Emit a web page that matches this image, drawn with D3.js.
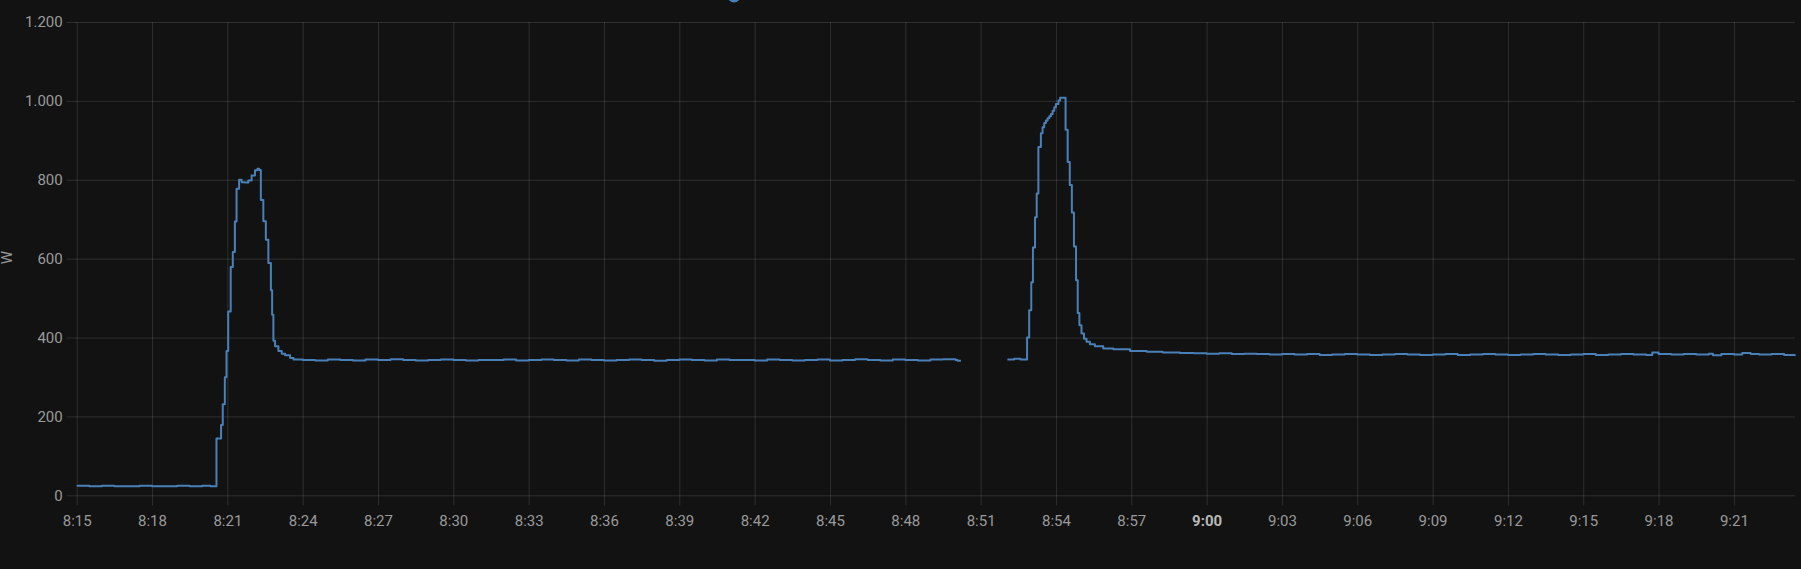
<!DOCTYPE html>
<html>
<head>
<meta charset="utf-8">
<script src="https://cdn.jsdelivr.net/npm/d3@7"></script>
<style>
  html, body { margin: 0; padding: 0; background: #121212; overflow: hidden; }
  svg { display: block; }
  text { font-family: Roboto, "Noto Sans", sans-serif; }
</style>
</head>
<body>
<svg id="chart" width="1801" height="569"></svg>
<script>
// ---- data ----
const times = [
  "8:15:00","8:15:30","8:16:00","8:16:30","8:17:00","8:17:30","8:18:00","8:18:30","8:19:00","8:19:30","8:20:00","8:20:20",
  "8:20:34","8:20:45","8:20:49","8:20:54","8:20:58","8:21:02","8:21:08","8:21:13","8:21:18","8:21:22","8:21:28","8:21:34",
  "8:21:42","8:21:50","8:21:58","8:22:06","8:22:12","8:22:16","8:22:20","8:22:26","8:22:32","8:22:38","8:22:44","8:22:47",
  "8:22:50","8:22:54","8:23:02","8:23:10","8:23:18","8:23:30","8:23:38",
  "8:24:00","8:24:30","8:25:00","8:25:30","8:26:00","8:26:30","8:27:00","8:27:30","8:28:00","8:28:30","8:29:00","8:29:30",
  "8:30:00","8:30:30","8:31:00","8:31:30","8:32:00","8:32:30","8:33:00","8:33:30","8:34:00","8:34:30","8:35:00","8:35:30",
  "8:36:00","8:36:30","8:37:00","8:37:30","8:38:00","8:38:30","8:39:00","8:39:30","8:40:00","8:40:30","8:41:00","8:41:30",
  "8:42:00","8:42:30","8:43:00","8:43:30","8:44:00","8:44:30","8:45:00","8:45:30","8:46:00","8:46:30","8:47:00","8:47:30",
  "8:48:00","8:48:30","8:49:00","8:49:30","8:50:00","8:50:05","8:50:13",
  "8:51:00",
  "8:52:04","8:52:20","8:52:35","8:52:51","8:52:56","8:53:01","8:53:05","8:53:10","8:53:14","8:53:18","8:53:24","8:53:28",
  "8:53:32","8:53:36","8:53:40","8:53:44","8:53:48","8:53:52","8:53:56","8:54:00","8:54:06","8:54:10","8:54:23","8:54:28",
  "8:54:33","8:54:38","8:54:43","8:54:48","8:54:52","8:54:56","8:55:01","8:55:07","8:55:13","8:55:21","8:55:33","8:55:53",
  "8:56:17","8:56:57","8:57:37","8:58:15","8:58:56",
  "8:59:30","9:00:00","9:00:30","9:01:00","9:01:30","9:02:00","9:02:30","9:03:00","9:03:30","9:04:00","9:04:30","9:05:00",
  "9:05:30","9:06:00","9:06:30","9:07:00","9:07:30","9:08:00","9:08:30","9:09:00","9:09:30","9:10:00","9:10:30","9:11:00",
  "9:11:30","9:12:00","9:12:30","9:13:00","9:13:30","9:14:00","9:14:30","9:15:00","9:15:30","9:16:00","9:16:30","9:17:00",
  "9:17:30","9:17:45","9:18:00","9:18:30","9:19:00","9:19:30","9:20:00","9:20:10","9:20:30","9:21:00","9:21:20","9:21:40",
  "9:22:00","9:22:30","9:23:00","9:23:26"
];
const watts = [
  24,23,24,23,23,24,23,23,24,23,24,23,
  144,178,231,299,366,466,579,617,694,777,800,794,
  793,798,811,824,828,825,749,695,648,589,520,458,
  392,378,366,359,355,348,344,
  343,342,344,343,342,344,343,345,343,342,343,344,
  343,342,343,343,344,342,343,344,343,342,344,343,
  342,343,344,343,341,343,344,343,342,344,343,343,
  342,344,343,342,343,344,342,343,345,343,342,344,
  343,342,344,345,343,341,341,
  null,
  344,346,344,400,469,540,628,705,765,883,918,933,
  944,950,956,961,967,975,984,992,1001,1008,927,845,
  787,717,631,545,462,431,410,397,389,383,378,372,
  370,366,364,362,361,
  360,359,360,358,359,358,357,358,357,358,356,357,
  358,357,356,357,358,357,356,357,358,356,357,358,
  357,356,357,358,357,356,357,358,356,357,358,357,
  356,362,358,357,358,357,359,355,358,357,361,358,
  357,358,356,357
];
const xTickLabels = ["8:15","8:18","8:21","8:24","8:27","8:30","8:33","8:36","8:39","8:42","8:45","8:48","8:51",
                     "8:54","8:57","9:00","9:03","9:06","9:09","9:12","9:15","9:18","9:21"];
const yTickValues = [0, 200, 400, 600, 800, 1000, 1200];
const xDomain = ["8:15:00", "9:23:26"];
const yDomain = [0, 1200];
const unitLabel = "W";

(function () {
  const parseT = s => {
    const p = s.split(":").map(Number);
    return new Date(2024, 0, 1, p[0], p[1], p[2] || 0);
  };
  const data = times.map((t, i) => ({ t: parseT(t), v: watts[i] }));
  const locale = d3.formatLocale({ decimal: ",", thousands: ".", grouping: [3], currency: ["", "€"] });
  const fmtY = locale.format(",");
  const fmtX = d3.timeFormat("%-H:%M");

  const W = 1801, H = 569;
  const mLeft = 76.7, mRight = 1795, mTop = 22, mBottom = 495.3;
  const svg = d3.select("#chart");
  svg.append("rect").attr("width", W).attr("height", H).attr("fill", "#121212");

  const x = d3.scaleTime().domain(xDomain.map(parseT)).range([mLeft, mRight]);
  const y = d3.scaleLinear().domain(yDomain).range([mBottom, mTop]);

  const gridColor = "rgba(240,240,240,0.13)";
  const textColor = "#9a9a9a";

  const gy = svg.append("g").attr("transform", `translate(${mRight},0)`);
  gy.call(d3.axisLeft(y).tickValues(yTickValues).tickFormat(fmtY)
    .tickSize(mRight - mLeft + 10).tickPadding(4));
  gy.select(".domain").remove();
  gy.selectAll(".tick line").attr("stroke", gridColor).attr("stroke-width", 1);
  gy.selectAll(".tick text").attr("fill", textColor).attr("font-size", 15).attr("font-family", "Roboto, sans-serif");

  const xTicks = xTickLabels.map(parseT);
  const gx = svg.append("g").attr("transform", `translate(0,${mTop})`);
  gx.call(d3.axisBottom(x).tickValues(xTicks).tickFormat(fmtX)
    .tickSize(mBottom - mTop + 10).tickPadding(10));
  gx.select(".domain").remove();
  gx.selectAll(".tick line").attr("stroke", gridColor).attr("stroke-width", 1);
  gx.selectAll(".tick text").attr("fill", textColor).attr("font-size", 15).attr("font-family", "Roboto, sans-serif")
    .filter(d => d.getHours() === 9 && d.getMinutes() === 0)
    .attr("font-weight", "bold").attr("fill", "#b8b8b8");

  svg.append("text")
    .attr("transform", `translate(12,${(mTop + mBottom) / 2 - 1}) rotate(-90)`)
    .attr("text-anchor", "middle")
    .attr("fill", textColor).attr("font-size", 15)
    .text(unitLabel);

  svg.append("circle").attr("cx", 734).attr("cy", -4).attr("r", 6.5).attr("fill", "#4a80b8");

  const line = d3.line()
    .defined(d => d.v != null)
    .x(d => x(d.t))
    .y(d => y(d.v))
    .curve(d3.curveStepAfter);

  svg.append("path")
    .datum(data)
    .attr("fill", "none")
    .attr("stroke", "#4a80b8")
    .attr("stroke-width", 2)
    .attr("stroke-linejoin", "round")
    .attr("d", line);
})();
</script>
</body>
</html>
